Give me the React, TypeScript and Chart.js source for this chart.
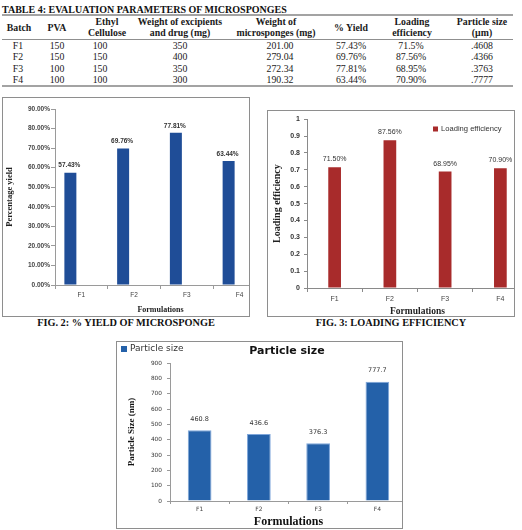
import React, { useEffect, useRef } from "react";
import { Chart, registerables } from "chart.js";

Chart.register(...registerables);

// ---- evaluation parameters of the microsponge batches ----
const batches = ["F1", "F2", "F3", "F4"];
const pvaAmounts = ["150", "150", "100", "100"];
const ethylCelluloseAmounts = ["100", "150", "150", "100"];
const excipientDrugWeights = ["350", "400", "350", "300"];
const microspongeWeights = ["201.00", "279.04", "272.34", "190.32"];
const yieldPercent = [57.43, 69.76, 77.81, 63.44];
const loadingEfficiency = [0.715, 0.8756, 0.6895, 0.709];
const loadingTableText = ["71.5%", "87.56%", "68.95%", "70.90%"];
const loadingLabelText = ["71.50%", "87.56%", "68.95%", "70.90%"];
const particleSizeNm = [460.8, 436.6, 376.3, 777.7];
const particleSizeUm = [".4608", ".4366", ".3763", ".7777"];

// axis ranges
const yieldAxis = { min: 0, max: 90, step: 10 };
const loadingAxis = { min: 0, max: 1, step: 0.1 };
const particleAxis = { min: 0, max: 900, step: 100 };

const SERIF = "'Liberation Serif', 'Times New Roman', serif";
const SANS = "'Liberation Sans', Arial, sans-serif";
const VERDANA = "'DejaVu Sans', Verdana, sans-serif";

type DrawFn = (ctx: CanvasRenderingContext2D, chart: Chart) => void;

function overlay(draw: DrawFn) {
  return {
    id: "overlay",
    afterDatasetsDraw(chart: Chart) {
      const ctx = chart.ctx;
      ctx.save();
      draw(ctx, chart);
      ctx.restore();
    },
  };
}

function drawBarLabels(
  ctx: CanvasRenderingContext2D,
  chart: Chart,
  texts: string[],
  font: string,
  color: string,
  gap: number,
  dx = 0
) {
  const meta = chart.getDatasetMeta(0);
  ctx.font = font;
  ctx.fillStyle = color;
  ctx.textAlign = "center";
  ctx.textBaseline = "middle";
  meta.data.forEach((el: any, i: number) => {
    ctx.fillText(texts[i], el.x + dx, el.y - gap);
  });
}

function drawLegendItem(
  ctx: CanvasRenderingContext2D,
  x: number,
  y: number,
  size: number,
  color: string,
  text: string,
  font: string
) {
  ctx.fillStyle = color;
  ctx.fillRect(x, y - size / 2, size, size);
  ctx.font = font;
  ctx.fillStyle = "#333";
  ctx.textAlign = "left";
  ctx.textBaseline = "middle";
  ctx.fillText(text, x + size + 3, y);
}

type Box = { x: number; y: number; w: number; h: number };

function Panel({
  box,
  canvasW,
  canvasH,
  make,
}: {
  box: Box;
  canvasW: number;
  canvasH: number;
  make: (c: HTMLCanvasElement) => Chart;
}) {
  const ref = useRef<HTMLCanvasElement>(null);
  useEffect(() => {
    const chart = make(ref.current as HTMLCanvasElement);
    return () => chart.destroy();
  }, []);
  return (
    <div
      style={{
        position: "absolute",
        left: box.x,
        top: box.y,
        width: box.w,
        height: box.h,
        border: "1px solid #8e8e8e",
        boxSizing: "border-box",
        overflow: "hidden",
        background: "#fff",
      }}
    >
      <canvas
        ref={ref}
        width={canvasW}
        height={canvasH}
        style={{ position: "absolute", left: 0, top: 0, width: canvasW, height: canvasH }}
      />
    </div>
  );
}

function axisGrid(color: string, tickLength: number) {
  return {
    display: true,
    drawOnChartArea: false,
    drawTicks: true,
    tickLength,
    color,
  };
}

// ---- Fig. 2: % yield ----
function makeYieldChart(canvas: HTMLCanvasElement) {
  const axisColor = "#9a9a9a";
  return new Chart(canvas, {
    type: "bar",
    data: {
      labels: batches,
      datasets: [
        {
          label: "% Yield",
          data: yieldPercent,
          backgroundColor: "#1f4d97",
          categoryPercentage: 0.834,
          barPercentage: 0.545,
        },
        {
          label: "",
          data: batches.map(() => null),
          backgroundColor: "#1f4d97",
          categoryPercentage: 0.834,
          barPercentage: 0.545,
        },
      ],
    },
    options: {
      responsive: false,
      animation: false,
      layout: { padding: { left: 0, right: 7, top: 11, bottom: 0 } },
      plugins: { legend: { display: false }, tooltip: { enabled: false } },
      scales: {
        x: {
          afterFit: (s: any) => {
            s.height = 31;
          },
          grid: { ...axisGrid(axisColor, 4), offset: true },
          border: { display: true, color: axisColor },
          ticks: { color: "#444", font: { family: SANS, size: 6.5 }, padding: 2 },
          title: {
            display: true,
            text: "Formulations",
            color: "#222",
            font: { family: SERIF, size: 8, weight: "bold", lineHeight: 1 },
            padding: { top: 0, bottom: 2 },
          },
        },
        y: {
          min: yieldAxis.min,
          max: yieldAxis.max,
          afterFit: (s: any) => {
            s.width = 52;
          },
          grid: axisGrid(axisColor, 4),
          border: { display: true, color: axisColor },
          ticks: {
            stepSize: yieldAxis.step,
            color: "#444",
            font: { family: SANS, size: 6.5, weight: "bold" },
            padding: 1,
            callback: (v: any) => Number(v).toFixed(2) + "%",
          },
          title: {
            display: true,
            text: "Percentage yield",
            color: "#222",
            font: { family: SERIF, size: 8.5, weight: "bold", lineHeight: 1 },
            padding: { top: 2.5, bottom: 0 },
          },
        },
      },
    },
    plugins: [
      overlay((ctx, chart) =>
        drawBarLabels(
          ctx,
          chart,
          yieldPercent.map((v) => v.toFixed(2) + "%"),
          `bold 6.5px ${SANS}`,
          "#333",
          7,
          -1
        )
      ),
    ],
  } as any);
}

// ---- Fig. 3: loading efficiency ----
function makeLoadingChart(canvas: HTMLCanvasElement) {
  const axisColor = "#8a8a8a";
  const red = "#a82b2b";
  return new Chart(canvas, {
    type: "bar",
    data: {
      labels: batches,
      datasets: [
        {
          label: "Loading efficiency",
          data: loadingEfficiency,
          backgroundColor: red,
          categoryPercentage: 1,
          barPercentage: 0.23,
        },
      ],
    },
    options: {
      responsive: false,
      animation: false,
      layout: { padding: { left: 0, right: 5, top: 8, bottom: 0 } },
      plugins: { legend: { display: false }, tooltip: { enabled: false } },
      scales: {
        x: {
          afterFit: (s: any) => {
            s.height = 28;
          },
          grid: { ...axisGrid(axisColor, 4), offset: true },
          border: { display: true, color: axisColor },
          ticks: { color: "#444", font: { family: SANS, size: 7 }, padding: 2.5 },
          title: {
            display: true,
            text: "Formulations",
            color: "#222",
            font: { family: SERIF, size: 9.5, weight: "bold", lineHeight: 1 },
            padding: { top: 0, bottom: 0 },
          },
        },
        y: {
          min: loadingAxis.min,
          max: loadingAxis.max,
          afterFit: (s: any) => {
            s.width = 39;
          },
          grid: axisGrid(axisColor, 3),
          border: { display: true, color: axisColor },
          ticks: {
            stepSize: loadingAxis.step,
            color: "#333",
            font: { family: SANS, size: 7, weight: "bold" },
            padding: 4,
            callback: (v: any) => {
              const n = Math.round(Number(v) * 10) / 10;
              return n === 0 || n === 1 ? String(n) : n.toFixed(1);
            },
          },
          title: {
            display: true,
            text: "Loading efficiency",
            color: "#222",
            font: { family: SERIF, size: 10, weight: "bold", lineHeight: 1 },
            padding: { top: 4, bottom: 0 },
          },
        },
      },
    },
    plugins: [
      overlay((ctx, chart) => {
        drawBarLabels(ctx, chart, loadingLabelText, `7px ${SANS}`, "#333", 8);
        drawLegendItem(ctx, 165, 18, 5, red, "Loading efficiency", `7.6px ${SANS}`);
      }),
    ],
  } as any);
}

// ---- particle size ----
function makeParticleChart(canvas: HTMLCanvasElement) {
  const axisColor = "#9a9a9a";
  const blue = "#2461a9";
  return new Chart(canvas, {
    type: "bar",
    data: {
      labels: batches,
      datasets: [
        {
          label: "Particle size",
          data: particleSizeNm,
          backgroundColor: blue,
          borderColor: "#7ea6da",
          borderWidth: 1,
          categoryPercentage: 1,
          barPercentage: 0.4,
        },
      ],
    },
    options: {
      responsive: false,
      animation: false,
      layout: { padding: { left: 0, right: 5, top: 21, bottom: 0 } },
      plugins: { legend: { display: false }, tooltip: { enabled: false } },
      scales: {
        x: {
          afterFit: (s: any) => {
            s.height = 27;
          },
          grid: { ...axisGrid(axisColor, 3), offset: true },
          border: { display: true, color: axisColor },
          ticks: { color: "#444", font: { family: VERDANA, size: 6 }, padding: 2 },
          title: {
            display: true,
            text: "Formulations",
            color: "#111",
            font: { family: SERIF, size: 12, weight: "bold", lineHeight: 1 },
            padding: { top: 0, bottom: 0 },
          },
        },
        y: {
          min: particleAxis.min,
          max: particleAxis.max,
          afterFit: (s: any) => {
            s.width = 53;
          },
          grid: axisGrid(axisColor, 3),
          border: { display: true, color: axisColor },
          ticks: {
            stepSize: particleAxis.step,
            color: "#333",
            font: { family: VERDANA, size: 5.8 },
            padding: 5,
          },
          title: {
            display: true,
            text: "Particle Size (nm)",
            color: "#111",
            font: { family: SERIF, size: 9, weight: "bold", lineHeight: 1 },
            padding: { top: 10.5, bottom: 0 },
          },
        },
      },
    },
    plugins: [
      overlay((ctx, chart) => {
        drawBarLabels(
          ctx,
          chart,
          particleSizeNm.map((v) => v.toFixed(1)),
          `6.5px ${VERDANA}`,
          "#333",
          11
        );
        drawLegendItem(ctx, 4, 7, 6, blue, "Particle size", `9px ${VERDANA}`);
        ctx.font = `bold 11px ${VERDANA}`;
        ctx.fillStyle = "#111";
        ctx.textAlign = "center";
        ctx.textBaseline = "middle";
        ctx.fillText("Particle size", 170, 9);
      }),
    ],
  } as any);
}

// ---- table ----
type Cell = { x: number; y: number; text: string; bold?: boolean };

function TextAt({ x, y, text, bold, size }: Cell & { size: number }) {
  return (
    <div
      style={{
        position: "absolute",
        left: x,
        top: y,
        transform: "translate(-50%, -50%)",
        whiteSpace: "nowrap",
        fontFamily: SERIF,
        fontSize: size,
        fontWeight: bold ? "bold" : "normal",
        lineHeight: 1,
        color: "#1a1a1a",
      }}
    >
      {text}
    </div>
  );
}

const headerCells: Cell[] = [
  { x: 19, y: 27.5, text: "Batch" },
  { x: 57, y: 27.5, text: "PVA" },
  { x: 107, y: 22, text: "Ethyl" },
  { x: 107, y: 33, text: "Cellulose" },
  { x: 180, y: 22, text: "Weight of excipients" },
  { x: 180, y: 33, text: "and drug (mg)" },
  { x: 276, y: 22, text: "Weight of" },
  { x: 276, y: 33, text: "microsponges (mg)" },
  { x: 351, y: 27.5, text: "% Yield" },
  { x: 412, y: 22, text: "Loading" },
  { x: 412, y: 33, text: "efficiency" },
  { x: 482, y: 22, text: "Particle size" },
  { x: 482, y: 33, text: "(\u00b5m)" },
];

const columnCenters = [18, 57, 100, 180, 280, 351, 411, 482];
const rowCenters = [46, 57.3, 68.6, 80];

function EvaluationTable() {
  const columns = [
    batches,
    pvaAmounts,
    ethylCelluloseAmounts,
    excipientDrugWeights,
    microspongeWeights,
    yieldPercent.map((v) => v.toFixed(2) + "%"),
    loadingTableText,
    particleSizeUm,
  ];
  const line = (y: number, h: number, color: string) => (
    <div style={{ position: "absolute", left: 2, top: y, width: 511, height: h, background: color }} />
  );
  return (
    <>
      <div
        style={{
          position: "absolute",
          left: 2,
          top: 4,
          whiteSpace: "nowrap",
          fontFamily: SERIF,
          fontSize: 10,
          fontWeight: "bold",
          lineHeight: "12px",
          color: "#111",
        }}
      >
        TABLE 4: EVALUATION PARAMETERS OF MICROSPONGES
      </div>
      {line(14, 2, "#a3a3a3")}
      {line(39, 1, "#8f8f8f")}
      {line(85, 2, "#a3a3a3")}
      {headerCells.map((c, i) => (
        <TextAt key={"h" + i} {...c} bold size={9.8} />
      ))}
      {columns.map((col, ci) =>
        col.map((t, ri) => (
          <TextAt key={`c${ci}-${ri}`} x={columnCenters[ci]} y={rowCenters[ri]} text={t} size={9.8} />
        ))
      )}
    </>
  );
}

function Caption({ x, y, text }: { x: number; y: number; text: string }) {
  return (
    <div
      style={{
        position: "absolute",
        left: x,
        top: y,
        transform: "translate(-50%, -50%)",
        whiteSpace: "nowrap",
        fontFamily: SERIF,
        fontSize: 10.3,
        fontWeight: "bold",
        lineHeight: 1,
        color: "#111",
      }}
    >
      {text}
    </div>
  );
}

export default function App() {
  return (
    <div
      style={{
        position: "absolute",
        left: 0,
        top: 0,
        width: 522,
        height: 530,
        background: "#fff",
        overflow: "hidden",
      }}
    >
      <EvaluationTable />
      <Panel box={{ x: 2, y: 97, w: 248, h: 220 }} canvasW={270} canvasH={218} make={makeYieldChart} />
      <Caption x={126} y={323} text="FIG. 2: % YIELD OF MICROSPONGE" />
      <Panel box={{ x: 267, y: 110, w: 248, h: 207 }} canvasW={265} canvasH={205} make={makeLoadingChart} />
      <Caption x={391} y={323} text="FIG. 3: LOADING EFFICIENCY" />
      <Panel box={{ x: 116, y: 341, w: 287, h: 188 }} canvasW={295} canvasH={186} make={makeParticleChart} />
    </div>
  );
}
